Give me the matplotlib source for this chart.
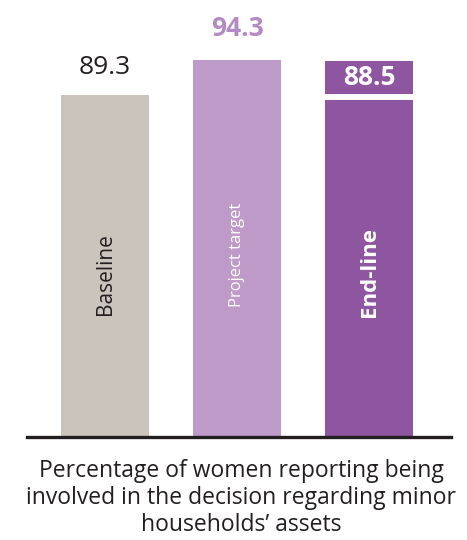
import matplotlib
matplotlib.use("Agg")
import matplotlib.pyplot as plt
from matplotlib.patches import Rectangle

# Datos del gráfico
categories = ["Baseline", "Project target", "End-line"]
values = [89.3, 94.3, 88.5]
value_labels = ["89.3", "94.3", "88.5"]
bar_colors = ["#CBC4BD", "#BD9AC8", "#8E55A1"]
caption = "Percentage of women reporting being\ninvolved in the decision regarding minor\nhouseholds\u2019 assets"

plt.rcParams["font.family"] = ["Open Sans", "DejaVu Sans"]

fig = plt.figure(figsize=(4.67, 5.4), dpi=100)
ax = fig.add_axes([27 / 467, 1 - 437 / 540, 424 / 467, (437 - 20.6) / 540])

x = list(range(len(categories)))
bar_width = 0.667
ax.bar(x, values, width=bar_width, color=bar_colors)
ax.set_xlim(-0.591, 2.621)
ax.set_ylim(40, 100)

# Quitar ejes excepto la línea base
for side in ["top", "left", "right"]:
    ax.spines[side].set_visible(False)
ax.spines["bottom"].set_linewidth(2.4)
ax.spines["bottom"].set_color("#231F20")
ax.set_xticks([])
ax.set_yticks([])

# Etiquetas de valor
ax.text(x[0], 93.2, value_labels[0], ha="center", va="center", fontsize=19, color="#231F20")
ax.text(x[1], 98.9, value_labels[1], ha="center", va="center", fontsize=19, color="#B38AC4",
        fontweight="bold")
# Recuadro del valor final, mismo ancho que la barra
ax.add_patch(Rectangle((x[2] - bar_width / 2, 89.4), bar_width, 4.8,
                       facecolor=bar_colors[2], edgecolor="none", clip_on=False))
ax.text(x[2], 91.8, value_labels[2], ha="center", va="center", fontsize=19, color="white",
        fontweight="bold")

# Etiquetas de categoría dentro de las barras
ax.text(x[0], 57.6, categories[0], rotation=90, ha="center", va="bottom", fontsize=15,
        color="#231F20")
ax.text(x[1], 58.7, categories[1], rotation=90, ha="center", va="bottom", fontsize=12,
        color="white")
ax.text(x[2], 57.3, categories[2], rotation=90, ha="center", va="bottom", fontsize=16,
        color="white", fontweight="bold")

fig.text(241 / 467, 1 - 498 / 540, caption, ha="center", va="center", fontsize=16.5,
         color="#231F20", linespacing=1.15)

fig.savefig("out.png", dpi=100)
